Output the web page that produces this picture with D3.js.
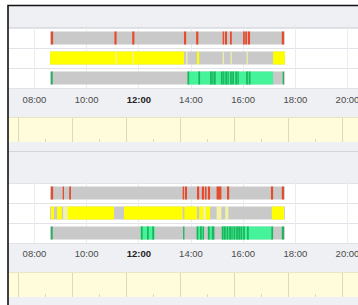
<!DOCTYPE html>
<html>
<head>
<meta charset="utf-8">
<script src="https://cdn.jsdelivr.net/npm/d3@7"></script>
<style>
  body { margin: 0; background: #fff; }
  svg { display: block; font-family: "Liberation Sans", Arial, sans-serif; }
</style>
</head>
<body>
<div id="chart"></div>
<script>
// Tick labels on the time axis
const hourTicks = ["08:00", "10:00", "12:00", "14:00", "16:00", "18:00", "20:00"];

// Span where each row has data (grey base)
const activeSpan = ["08:37", "17:37"];

// Segments for each row: [start, end, kind]
const topRed = [
    ["08:39", "08:44", "red"], ["11:05", "11:10", "red"], ["11:46", "11:51", "red"],
    ["13:45", "13:50", "red"], ["14:13", "14:18", "red"], ["15:14", "15:17", "red"],
    ["15:19", "15:24", "red"], ["15:31", "15:35", "red"], ["16:01", "16:05", "red"],
    ["16:06", "16:10", "red"], ["16:12", "16:17", "red"], ["17:30", "17:35", "red"]
];
const topYellow = [
    ["08:37", "13:45", "yellow"], ["11:08", "11:10", "pale"], ["11:47", "11:49", "pale"],
    ["13:50", "13:53", "pale"], ["14:15", "14:20", "yellow"], ["15:14", "15:16", "pale"],
    ["15:32", "15:34", "pale"], ["16:09", "16:11", "pale"], ["17:10", "17:37", "yellow"]
];
const topGreen = [
    ["08:39", "08:43", "dark"], ["13:54", "17:10", "green"],
    ["13:53", "13:57", "dark"], ["14:18", "14:22", "dark"], ["14:45", "14:49", "dark"],
    ["14:50", "14:53", "dark"], ["14:54", "14:58", "dark"], ["15:10", "15:14", "dark"],
    ["15:15", "15:18", "dark"], ["15:20", "15:24", "dark"], ["15:25", "15:28", "dark"],
    ["15:31", "15:35", "dark"], ["15:36", "15:40", "dark"], ["15:43", "15:47", "dark"],
    ["15:48", "15:51", "dark"], ["16:08", "16:12", "dark"], ["16:14", "16:18", "dark"],
    ["17:32", "17:35", "dark"]
];

const bottomRed = [
    ["08:39", "08:44", "red"], ["09:06", "09:09", "red"], ["09:21", "09:25", "red"],
    ["13:42", "13:45", "red"], ["13:47", "13:52", "red"], ["14:15", "14:20", "red"],
    ["14:26", "14:31", "red"], ["14:33", "14:37", "red"], ["14:40", "14:45", "red"],
    ["15:00", "15:11", "red"], ["15:24", "15:29", "red"], ["17:05", "17:10", "red"],
    ["17:30", "17:35", "red"]
];
const bottomYellow = [
    ["08:39", "08:46", "yellow"], ["08:53", "09:04", "yellow"], ["09:07", "09:18", "pale"],
    ["09:18", "11:04", "yellow"], ["11:27", "13:42", "yellow"], ["13:46", "14:15", "yellow"],
    ["14:20", "14:29", "yellow"], ["14:29", "14:36", "pale"], ["14:36", "14:45", "yellow"],
    ["15:00", "15:11", "pale"], ["15:20", "15:27", "pale"], ["17:07", "17:35", "yellow"]
];
const bottomGreen = [
    ["08:39", "08:43", "dark"],
    ["12:05", "12:38", "green"], ["12:06", "12:10", "dark"], ["12:20", "12:24", "dark"], ["12:32", "12:36", "dark"],
    ["13:43", "13:46", "dark"],
    ["14:15", "14:31", "green"], ["14:14", "14:18", "dark"], ["14:22", "14:26", "dark"], ["14:28", "14:31", "dark"],
    ["14:40", "14:54", "green"], ["14:40", "14:44", "dark"], ["14:49", "14:52", "dark"], ["14:52", "14:55", "dark"],
    ["15:12", "17:07", "green"], ["15:12", "15:16", "dark"], ["15:17", "15:21", "dark"], ["15:23", "15:27", "dark"],
    ["15:29", "15:33", "dark"], ["15:34", "15:37", "dark"], ["15:39", "15:43", "dark"], ["15:45", "15:49", "dark"],
    ["15:50", "15:54", "dark"], ["15:55", "15:59", "dark"], ["16:01", "16:05", "dark"], ["16:10", "16:14", "dark"],
    ["17:06", "17:10", "dark"], ["17:30", "17:35", "dark"]
];

const colors = {
    red: "#e84a2c",
    yellow: "#ffff00",
    pale: "#f3f3a6",
    green: "#45f49a",
    dark: "#1cb45c"
};

const parse = d3.timeParse("%H:%M");
const W = 358, H = 305;

const svg = d3.select("#chart").append("svg")
    .attr("width", W)
    .attr("height", H);

// Main time scale and the navigator's scale
const x = d3.scaleTime()
    .domain([parse(hourTicks[0]), parse(hourTicks[hourTicks.length - 1])])
    .range([34, 347]);
const navX = d3.scaleTime()
    .domain(x.domain())
    .range([18, 342]);

// Panel background
svg.append("rect")
    .attr("x", 8).attr("y", 6)
    .attr("width", W - 8).attr("height", H - 6)
    .attr("fill", "#eff0f4");

// Lay out the two panels
const panels = [
    { top: 6, rowTop: 28, labelY: 99, bandTop: 118, rows: [topRed, topYellow, topGreen] },
    { top: 152, rowTop: 183, labelY: 253, bandTop: 273, rows: [bottomRed, bottomYellow, bottomGreen] }
];

panels.forEach(p => {
    const g = svg.append("g");
    const y = d3.scaleBand()
        .domain(d3.range(p.rows.length))
        .range([p.rowTop, p.rowTop + 60]);

    // White row backgrounds
    g.selectAll(".rowbg")
        .data(y.domain())
        .enter()
        .append("rect")
        .attr("x", 8).attr("width", W - 8)
        .attr("y", d => y(d)).attr("height", y.bandwidth())
        .attr("fill", "#fff");

    // Row separators
    g.selectAll(".sep")
        .data(d3.range(p.rows.length + 1))
        .enter()
        .append("line")
        .attr("x1", 8).attr("x2", W)
        .attr("y1", d => p.rowTop + d * y.step() + 0.5)
        .attr("y2", d => p.rowTop + d * y.step() + 0.5)
        .attr("stroke", "#e2e3e8");

    // Faint vertical gridlines
    g.selectAll(".grid")
        .data(hourTicks)
        .enter()
        .append("line")
        .attr("x1", d => Math.round(x(parse(d))) + 0.5)
        .attr("x2", d => Math.round(x(parse(d))) + 0.5)
        .attr("y1", p.rowTop - 4).attr("y2", p.rowTop + 60)
        .attr("stroke", "#ececec");

    const barH = 13;
    const off = (y.bandwidth() - barH) / 2;

    p.rows.forEach((segs, i) => {
        // Grey base bar
        g.append("rect")
            .attr("x", x(parse(activeSpan[0])))
            .attr("width", x(parse(activeSpan[1])) - x(parse(activeSpan[0])))
            .attr("y", y(i) + off).attr("height", barH)
            .attr("fill", "#c9c9c9");

        g.selectAll(".seg" + i)
            .data(segs)
            .enter()
            .append("rect")
            .attr("x", d => x(parse(d[0])))
            .attr("width", d => Math.max(1.2, x(parse(d[1])) - x(parse(d[0]))))
            .attr("y", y(i) + off).attr("height", barH)
            .attr("fill", d => colors[d[2]]);
    });

    // Axis labels
    const axis = d3.axisBottom(x)
        .tickValues(hourTicks.map(parse))
        .tickFormat(d3.timeFormat("%H:%M"))
        .tickSize(0);
    const ax = g.append("g")
        .attr("transform", `translate(0,${p.labelY - 6})`)
        .call(axis);
    ax.select(".domain").remove();
    ax.selectAll("text")
        .attr("font-size", 9.5)
        .attr("font-family", "Liberation Sans, Arial, sans-serif")
        .attr("fill", "#4a4a4a")
        .attr("font-weight", d => d.getHours() === 12 ? "bold" : "normal")
        .attr("fill", d => d.getHours() === 12 ? "#222" : "#4a4a4a");

    // Navigator band
    g.append("rect")
        .attr("x", 8).attr("width", W - 8)
        .attr("y", p.bandTop).attr("height", 24)
        .attr("fill", "#fefcdb");
    g.append("line")
        .attr("x1", 8).attr("x2", W)
        .attr("y1", p.bandTop - 0.5).attr("y2", p.bandTop - 0.5)
        .attr("stroke", "#e8e6c8");
    g.selectAll(".navgrid")
        .data(navX.ticks(d3.timeHour.every(2)))
        .enter()
        .append("line")
        .attr("x1", d => Math.round(navX(d)) + 0.5)
        .attr("x2", d => Math.round(navX(d)) + 0.5)
        .attr("y1", p.bandTop).attr("y2", p.bandTop + 24)
        .attr("stroke", "#dcd9c0");
    g.selectAll(".navminor")
        .data(navX.ticks(d3.timeHour.every(1)).filter(d => d.getHours() % 2 === 1))
        .enter()
        .append("line")
        .attr("x1", d => Math.round(navX(d)) + 0.5)
        .attr("x2", d => Math.round(navX(d)) + 0.5)
        .attr("y1", p.bandTop + 21).attr("y2", p.bandTop + 24)
        .attr("stroke", "#dcd9c0");
});

// Separator between the panels
svg.append("line")
    .attr("x1", 8).attr("x2", W)
    .attr("y1", 151.5).attr("y2", 151.5)
    .attr("stroke", "#d4d5da");

// Header separator in top panel
svg.append("line")
    .attr("x1", 8).attr("x2", W)
    .attr("y1", 27.5).attr("y2", 27.5)
    .attr("stroke", "#dcdde2");

// Outer border (top and left)
svg.append("path")
    .attr("d", `M8,${H} V5.5 H${W}`)
    .attr("fill", "none")
    .attr("stroke", "#111")
    .attr("stroke-width", 1.6);
</script>
</body>
</html>
